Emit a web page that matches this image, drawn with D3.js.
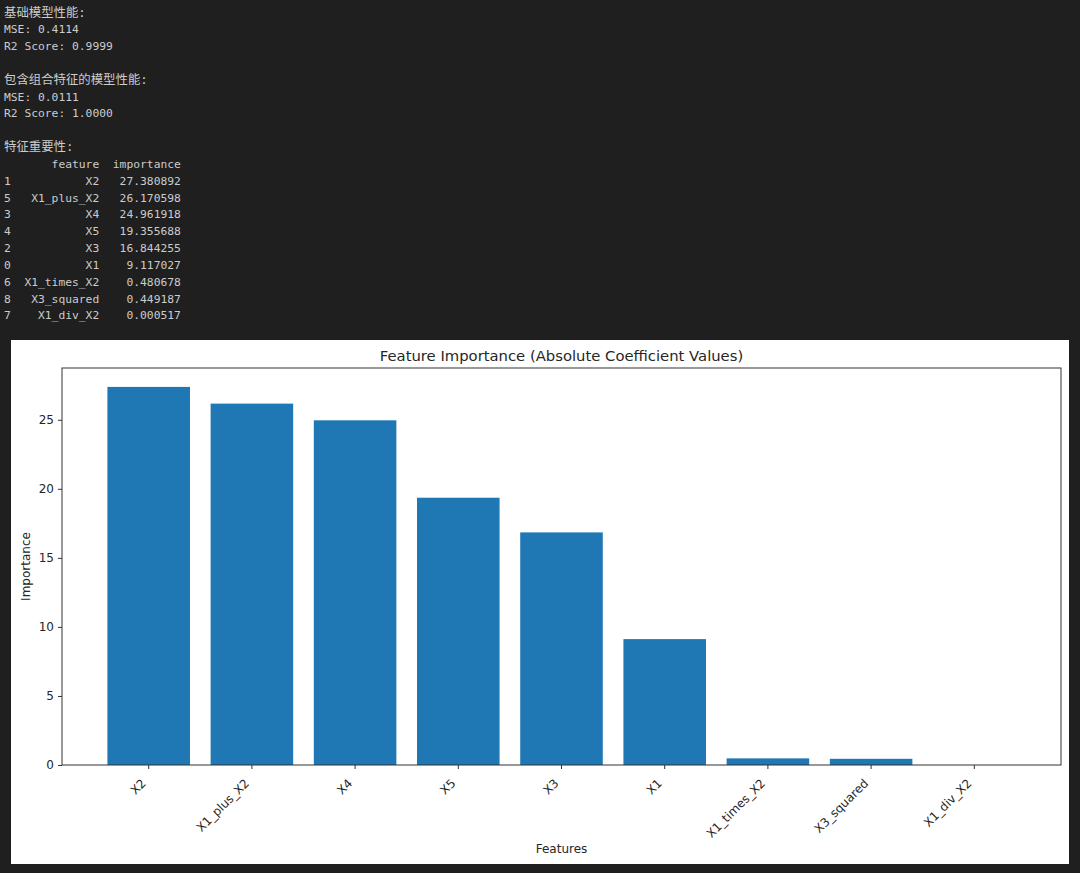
<!DOCTYPE html>
<html>
<head>
<meta charset="utf-8">
<script src="https://cdn.jsdelivr.net/npm/d3@7"></script>
<style>
  html, body { margin: 0; padding: 0; background: #1f1f1f; }
  svg { display: block; }
</style>
</head>
<body>
<svg id="chart" width="1080" height="873"></svg>
<script>
// ---- data ----
const features = ["X2", "X1_plus_X2", "X4", "X5", "X3", "X1", "X1_times_X2", "X3_squared", "X1_div_X2"];
const importance = [27.380892, 26.170598, 24.961918, 19.355688, 16.844255, 9.117027, 0.480678, 0.449187, 0.000517];
const rowIndex = [1, 5, 3, 4, 2, 0, 6, 8, 7];
const yTicks = [0, 5, 10, 15, 20, 25];
const baseTitle = "基础模型性能:";
const baseMetrics = ["MSE: 0.4114", "R2 Score: 0.9999"];
const comboTitle = "包含组合特征的模型性能:";
const comboMetrics = ["MSE: 0.0111", "R2 Score: 1.0000"];
const importanceTitle = "特征重要性:";
const chartTitle = "Feature Importance (Absolute Coefficient Values)";
const xLabel = "Features";
const yLabel = "Importance";

// ---- console text ----
const svg = d3.select("#chart");
const pad = (s, n) => " ".repeat(Math.max(0, n - s.length)) + s;
const lines = [baseTitle, ...baseMetrics, "", comboTitle, ...comboMetrics, "", importanceTitle];
lines.push(" " + "  " + pad("feature", 11) + "  " + pad("importance", 10));
features.forEach((f, i) => {
  lines.push(String(rowIndex[i]) + "  " + pad(f, 11) + "  " + pad(importance[i].toFixed(6), 10));
});
const cjkTitles = [baseTitle, comboTitle, importanceTitle];
const con = svg.append("g")
  .attr("font-family", "'DejaVu Sans Mono', 'Noto Sans CJK SC', monospace")
  .attr("font-size", 11.3)
  .attr("fill", "#cccccc");
lines.forEach((t, k) => {
  con.append("text")
    .attr("x", 4)
    .attr("y", 16.5 + 16.83 * k)
    .attr("font-size", cjkTitles.includes(t) ? 12.4 : null)
    .attr("xml:space", "preserve")
    .style("white-space", "pre")
    .text(t);
});

// ---- figure ----
svg.append("rect").attr("x", 11).attr("y", 340).attr("width", 1058).attr("height", 524).attr("fill", "#ffffff");

const pL = 62, pR = 1061, pT = 368, pB = 765;
const x = d3.scaleBand().domain(features).range([pL, pR]).paddingInner(0.2).paddingOuter(0.44);
const y = d3.scaleLinear().domain([0, 28.75]).range([pB, pT]);

const fig = svg.append("g").attr("font-family", "'DejaVu Sans', sans-serif").attr("fill", "#262626");

fig.selectAll("rect.bar").data(features).join("rect")
  .attr("class", "bar")
  .attr("x", d => x(d))
  .attr("width", x.bandwidth())
  .attr("y", (d, i) => y(importance[i]))
  .attr("height", (d, i) => y(0) - y(importance[i]))
  .attr("fill", "#1f77b4");

// frame
fig.append("rect").attr("x", pL).attr("y", pT).attr("width", pR - pL).attr("height", pB - pT)
  .attr("fill", "none").attr("stroke", "#333").attr("stroke-width", 1);

// y axis
const yAxis = d3.axisLeft(y).tickValues(yTicks).tickSize(4).tickPadding(4).tickFormat(d3.format("d"));
const ya = svg.append("g").attr("transform", `translate(${pL},0)`).call(yAxis);
ya.select(".domain").remove();
ya.selectAll(".tick line").attr("stroke", "#333");
ya.selectAll(".tick text").attr("font-family", "'DejaVu Sans', sans-serif").attr("font-size", 12).attr("fill", "#262626");

// x axis
const xAxis = d3.axisBottom(x).tickSize(4).tickPadding(0);
const xa = svg.append("g").attr("transform", `translate(0,${pB})`).call(xAxis);
xa.select(".domain").remove();
xa.selectAll(".tick line").attr("stroke", "#333");
xa.selectAll(".tick text")
  .attr("font-family", "'DejaVu Sans', sans-serif").attr("font-size", 12).attr("fill", "#262626")
  .attr("text-anchor", "end")
  .attr("dy", null)
  .attr("y", null)
  .attr("transform", "translate(-2,19) rotate(-45)");

// title & labels
fig.append("text").attr("x", (pL + pR) / 2).attr("y", 360.5).attr("text-anchor", "middle")
  .attr("font-size", 14.8).text(chartTitle);
fig.append("text").attr("x", (pL + pR) / 2).attr("y", 853).attr("text-anchor", "middle")
  .attr("font-size", 12).text(xLabel);
fig.append("text").attr("transform", `translate(30,${(pT + pB) / 2}) rotate(-90)`).attr("text-anchor", "middle")
  .attr("font-size", 12).text(yLabel);
</script>
</body>
</html>
